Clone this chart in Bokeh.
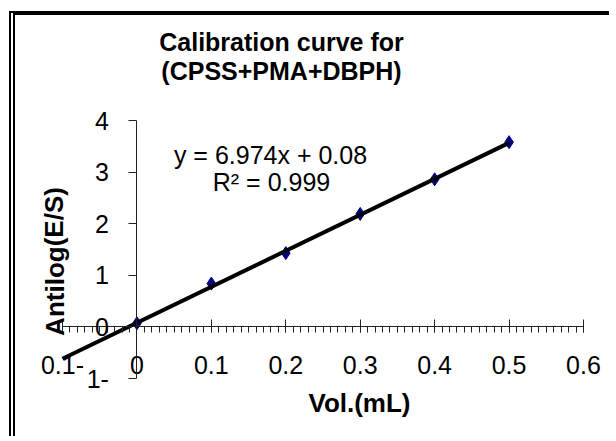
from bokeh.plotting import figure
from bokeh.models import Range1d, FixedTicker, Label
from bokeh.embed import file_html
from bokeh.resources import INLINE

# ---- data ----
vol_ml = [0.0, 0.1, 0.2, 0.3, 0.4, 0.5]
antilog_es = [0.07, 0.84, 1.43, 2.19, 2.86, 3.58]
slope = 6.974
intercept = 0.08
trend_x_range = [-0.1, 0.5]
x_ticks = [-0.1, 0.0, 0.1, 0.2, 0.3, 0.4, 0.5, 0.6]
y_ticks = [-1, 0, 1, 2, 3, 4]
x_tick_overrides = {-0.1: "0.1-"}
y_tick_overrides = {-1: "1-"}
title_lines = ["Calibration curve for", "(CPSS+PMA+DBPH)"]
equation_text = "y = 6.974x + 0.08"
r2_text = "R\u00b2 = 0.999"
x_label = "Vol.(mL)"
y_label = "Antilog(E/S)"

# ---- layout constants (page pixels) ----
X0, X1 = -0.1, 0.6
Y0, Y1 = -1, 4
AX_L, AX_R = 62, 583      # page x of X0 and X1
AX_T, AX_B = 120, 378     # page y of Y1 and Y0
CX, CY = 15, 15           # page position of the canvas origin
W, H = 600, 425


def px2x(px):
    return X0 + (px - AX_L) / (AX_R - AX_L) * (X1 - X0)


def py2y(py):
    return Y1 - (py - AX_T) / (AX_B - AX_T) * (Y1 - Y0)


p = figure(
    output_backend="svg", toolbar_location=None,
    width=W, height=H,
    min_border_left=0, min_border_right=0,
    min_border_top=0, min_border_bottom=0,
    x_range=Range1d(px2x(CX), px2x(CX + W)),
    y_range=Range1d(py2y(CY + H), py2y(CY)),
    background_fill_color="white", border_fill_color="white",
)
p.outline_line_color = None
p.grid.visible = False
p.styles = {"border-top": "4px solid black", "border-left": "6px double black",
            "margin-top": "11px", "margin-left": "9px"}

FONT = "Liberation Sans"

xa = p.xaxis[0]
xa.fixed_location = 0
xa.bounds = (X0, X1)
xa.ticker = FixedTicker(ticks=x_ticks,
                        minor_ticks=[round(X0 + i * 0.01, 2) for i in range(71)])
xa.major_label_overrides = x_tick_overrides
xa.major_tick_in = 7
xa.major_tick_out = 6
xa.minor_tick_in = 0
xa.minor_tick_out = 6
xa.major_label_standoff = 23
xa.major_label_text_font = FONT
xa.major_label_text_font_size = "25px"
xa.major_label_text_color = "black"
xa.axis_line_color = "#222222"
xa.major_tick_line_color = "#222222"
xa.minor_tick_line_color = "#222222"

ya = p.yaxis[0]
ya.fixed_location = 0
ya.bounds = (Y0, Y1)
ya.ticker = FixedTicker(ticks=y_ticks, minor_ticks=[])
ya.major_label_overrides = y_tick_overrides
ya.major_tick_in = 0
ya.major_tick_out = 8
ya.minor_tick_line_color = None
ya.major_label_standoff = 20
ya.major_label_text_font = FONT
ya.major_label_text_font_size = "25px"
ya.major_label_text_color = "black"
ya.axis_line_color = "#222222"
ya.major_tick_line_color = "#222222"

# data points and trend line
p.scatter(vol_ml, antilog_es, marker="diamond", size=13,
          fill_color="#000080", line_color="#000080")
tx = trend_x_range
ty = [slope * v + intercept for v in tx]
p.line(tx, ty, line_color="black", line_width=4)


def add_text(txt, px, py, size, bold=False, angle=0.0, align="center"):
    p.add_layout(Label(x=px2x(px), y=py2y(py), text=txt, text_align=align,
                       text_baseline="middle", angle=angle,
                       text_font=FONT, text_font_size=size,
                       text_font_style="bold" if bold else "normal",
                       text_color="black"))


add_text(title_lines[0], 281, 41, "25px", bold=True)
add_text(title_lines[1], 281, 70, "25px", bold=True)
add_text(equation_text, 270, 154, "25px")
add_text(r2_text, 271, 181, "25px")
add_text(x_label, 359, 402, "26px", bold=True)
add_text(y_label, 54, 261, "26px", bold=True, angle=1.5708)

open("out.html", "w").write(file_html(p, INLINE))
